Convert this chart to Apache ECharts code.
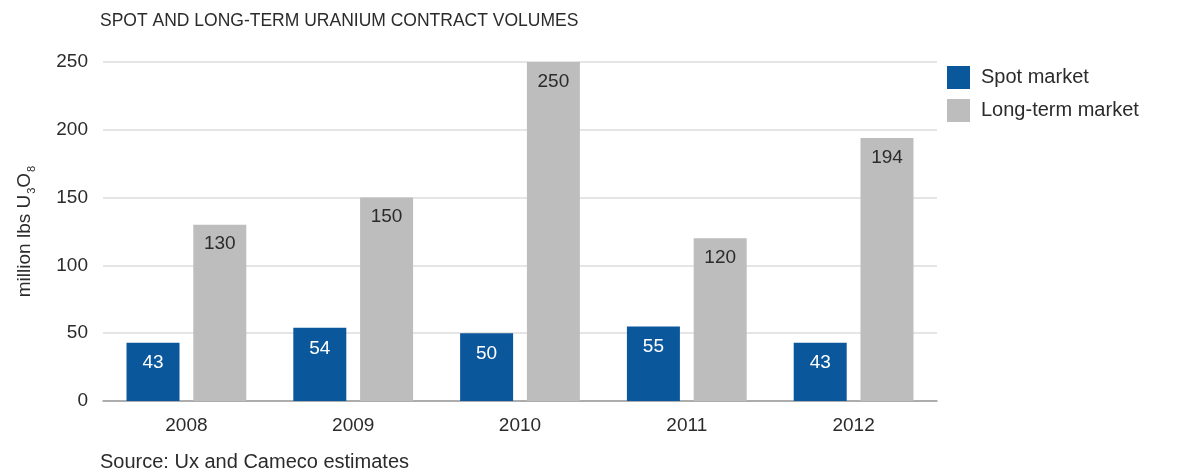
<!DOCTYPE html>
<html>
<head>
<meta charset="utf-8">
<script src="https://cdn.jsdelivr.net/npm/echarts@6/dist/echarts.min.js"></script>
<style>
  html, body { margin: 0; padding: 0; background: #fff; }
  #chart { width: 1196px; height: 470px; }
</style>
</head>
<body>
<div id="chart"></div>
<script>
// Uranium contract volumes, million lbs U3O8
const years = ['2008', '2009', '2010', '2011', '2012'];
const spotMarket = [43, 54, 50, 55, 43];
const longTermMarket = [130, 150, 250, 120, 194];
const yTicks = [0, 50, 100, 150, 200, 250];

const FONT = '"Liberation Sans", Arial, Helvetica, sans-serif';
const TEXT = '#2b2b2b';
const BLUE = '#0b579c';
const GREY = '#bdbdbd';

const chart = echarts.init(document.getElementById('chart'), null, { renderer: 'canvas' });

chart.setOption({
  backgroundColor: '#ffffff',
  animation: false,
  textStyle: { fontFamily: FONT, color: TEXT },
  title: [
    {
      text: 'SPOT AND LONG-TERM URANIUM CONTRACT VOLUMES',
      left: 95, top: 7,
      textStyle: { fontFamily: FONT, fontSize: 17.5, fontWeight: 'normal', color: TEXT }
    },
    {
      text: 'Source: Ux and Cameco estimates',
      left: 95, top: 447,
      textStyle: { fontFamily: FONT, fontSize: 20, fontWeight: 'normal', color: TEXT }
    }
  ],
  legend: {
    orient: 'vertical',
    left: 942, top: 61,
    itemWidth: 23, itemHeight: 23, itemGap: 10,
    icon: 'rect',
    textStyle: { fontFamily: FONT, fontSize: 20, color: TEXT, padding: [0, 0, 0, 6] },
    data: ['Spot market', 'Long-term market']
  },
  grid: { left: 103, right: 259, top: 62, bottom: 69, containLabel: false },
  xAxis: {
    type: 'category',
    data: years,
    axisTick: { show: false },
    axisLine: { show: true, lineStyle: { color: '#9a9a9a', width: 1.5 } },
    axisLabel: { fontFamily: FONT, fontSize: 19, color: TEXT, margin: 15 }
  },
  yAxis: {
    type: 'value',
    min: yTicks[0],
    max: yTicks[yTicks.length - 1],
    interval: 50,
    name: '{a|million lbs U}{s|3}{a|O}{s|8}',
    nameLocation: 'middle',
    nameGap: 68,
    nameTextStyle: {
      rich: {
        a: { fontFamily: FONT, fontSize: 19, color: TEXT, lineHeight: 20, verticalAlign: 'middle' },
        s: { fontFamily: FONT, fontSize: 11, color: TEXT, lineHeight: 11, padding: [11, 0, 0, 1], verticalAlign: 'top' }
      }
    },
    axisLine: { show: false },
    axisTick: { show: false },
    axisLabel: { fontFamily: FONT, fontSize: 19, color: TEXT, margin: 15 },
    splitLine: { show: true, lineStyle: { color: '#dcdcdc', width: 1.5 } }
  },
  series: [
    {
      name: 'Spot market',
      type: 'bar',
      data: spotMarket,
      barWidth: 53,
      barGap: '26%',
      itemStyle: { color: BLUE },
      label: {
        show: true, position: 'insideTop', distance: 11,
        fontFamily: FONT, fontSize: 19, color: '#ffffff'
      }
    },
    {
      name: 'Long-term market',
      type: 'bar',
      data: longTermMarket,
      barWidth: 53,
      itemStyle: { color: GREY },
      label: {
        show: true, position: 'insideTop', distance: 10,
        fontFamily: FONT, fontSize: 19, color: TEXT
      }
    }
  ]
});
</script>
</body>
</html>
